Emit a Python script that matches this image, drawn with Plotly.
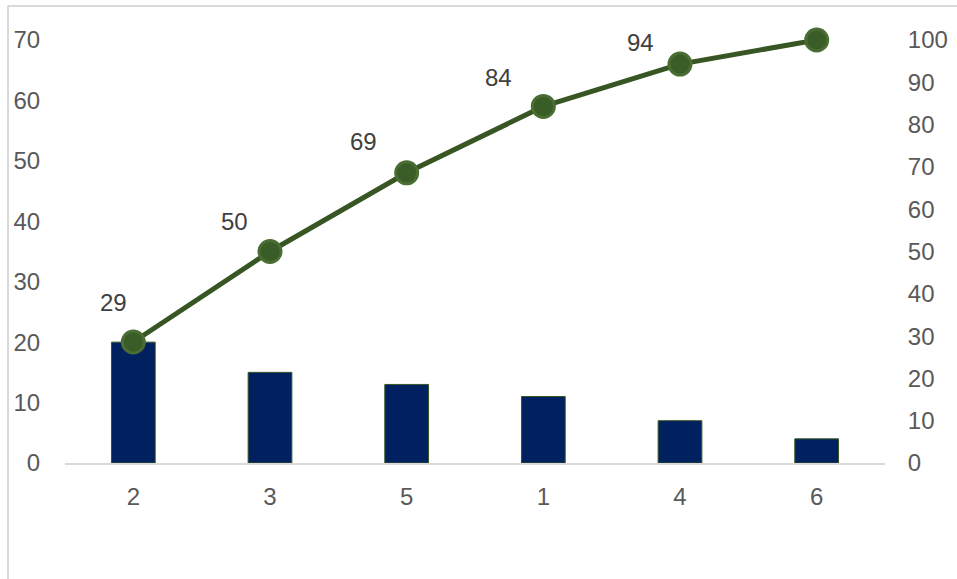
import plotly.graph_objects as go

categories = ["2", "3", "5", "1", "4", "6"]
counts = [20, 15, 13, 11, 7, 4]
cum_pct = [28.6, 50.0, 68.6, 84.3, 94.3, 100.0]
cum_labels = ["29", "50", "69", "84", "94", ""]
left_ticks = [0, 10, 20, 30, 40, 50, 60, 70]
right_ticks = [0, 10, 20, 30, 40, 50, 60, 70, 80, 90, 100]

# label offsets (style only)
label_dx = [-20, -36, -43, -45, -40, 0]
label_dy = [40, 30, 31, 29, 22, 0]

FONT = "Liberation Sans, Arial, sans-serif"
TICK_COLOR = "#595959"

fig = go.Figure()
fig.add_trace(go.Bar(
    x=categories, y=counts, width=0.32,
    marker=dict(color="#002060", line=dict(color="#375623", width=1)),
    yaxis="y", showlegend=False,
))
fig.add_trace(go.Scatter(
    x=categories, y=cum_pct, mode="lines+markers", yaxis="y2",
    line=dict(color="#375623", width=5),
    marker=dict(size=22, color="#3a5c26", line=dict(color="#4a6d33", width=3)),
    cliponaxis=False, showlegend=False,
))

for i, (v, t, dx, dy) in enumerate(zip(cum_pct, cum_labels, label_dx, label_dy)):
    if not t:
        continue
    fig.add_annotation(x=i, xref="x", y=v, yref="y2", text=t, showarrow=False,
                       xshift=dx, yshift=dy,
                       font=dict(family=FONT, size=24, color="#404040"))

# chart area border (top and left edges visible)
fig.add_shape(type="line", xref="paper", yref="paper",
              x0=(8 - 65) / 820, x1=(970 - 65) / 820,
              y0=(463 - 6) / 423, y1=(463 - 6) / 423,
              line=dict(color="#d9d9d9", width=2))
fig.add_shape(type="line", xref="paper", yref="paper",
              x0=(8 - 65) / 820, x1=(8 - 65) / 820,
              y0=(463 - 6) / 423, y1=(463 - 600) / 423,
              line=dict(color="#d9d9d9", width=2))

fig.update_layout(
    width=957, height=579,
    margin=dict(l=65, r=72, t=40, b=116, autoexpand=False),
    paper_bgcolor="white", plot_bgcolor="white",
    font=dict(family=FONT, size=24, color=TICK_COLOR),
    xaxis=dict(
        type="category", showgrid=False, showline=True, linecolor="#d9d9d9", linewidth=2,
        ticks="outside", ticklen=11, tickcolor="rgba(0,0,0,0)",
        tickfont=dict(family=FONT, size=24, color=TICK_COLOR),
        zeroline=False, automargin=False,
    ),
    yaxis=dict(
        range=[0, 70], tickvals=left_ticks, showgrid=False, zeroline=False, showline=False,
        ticks="outside", ticklen=19, tickcolor="rgba(0,0,0,0)", automargin=False,
        tickfont=dict(family=FONT, size=24, color=TICK_COLOR),
    ),
    yaxis2=dict(
        range=[0, 100], tickvals=right_ticks, overlaying="y", side="right",
        showgrid=False, zeroline=False, showline=False, automargin=False,
        ticks="outside", ticklen=17, tickcolor="rgba(0,0,0,0)",
        tickfont=dict(family=FONT, size=24, color=TICK_COLOR),
    ),
)

fig.write_html("out.html")
